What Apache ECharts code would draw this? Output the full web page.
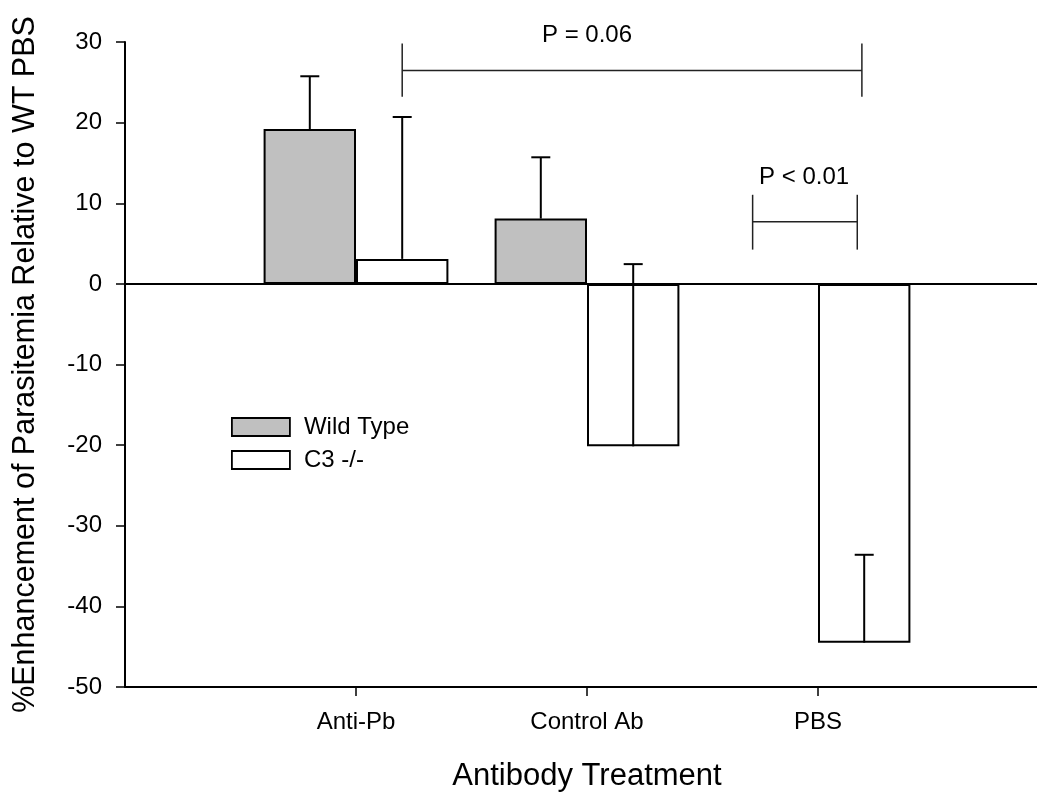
<!DOCTYPE html>
<html>
<head>
<meta charset="utf-8">
<script src="https://cdn.jsdelivr.net/npm/echarts@6/dist/echarts.min.js"></script>
<style>
  html, body { margin: 0; padding: 0; background: #fff; }
  #chart { width: 1037px; height: 797px; }
</style>
</head>
<body>
<div id="chart"></div>
<script>
// Treatment groups shown along the x axis
const categories = ['Anti-Pb', 'Control Ab', 'PBS'];

// Mean % enhancement of parasitemia relative to WT PBS
const wildTypeMeans = [19.2, 8.1, 0];
const c3Means = [3.1, -20.15, -44.5];

// Standard errors (drawn upward from each bar end)
const wildTypeErrors = [6.55, 7.6, 0];
const c3Errors = [17.6, 22.6, 10.9];

// Y axis scale
const yMin = -50;
const yMax = 30;
const yStep = 10;

// Significance brackets: [xStart, xEnd, yLine, yTickLow, yTickHigh]
const bracketSpans = [
  [1.2, 3.19, 26.45, 23.2, 29.8],
  [2.717, 3.17, 7.7, 4.25, 11.05]
];
// Bracket labels: [x, y, text]
const bracketLabels = [
  [2.0, 30.85, 'P = 0.06'],
  [2.94, 13.25, 'P < 0.01']
];

const FONT = '"Liberation Sans", Arial, Helvetica, sans-serif';

// padded category list so the groups sit at positions 1..3 on a 0..4 span
const axisCats = [''].concat(categories, ['']);
const pad = (arr) => [null].concat(arr, [null]);

const chart = echarts.init(document.getElementById('chart'), null, { renderer: 'canvas' });

function errorSeries(name, means, errs, side) {
  const data = means.map((m, i) => [i + 1, m, m + errs[i], errs[i]]);
  return {
    type: 'custom',
    name: name + ' error',
    xAxisIndex: 1,
    z: 4,
    silent: true,
    clip: false,
    data: data,
    renderItem: function (params, api) {
      if (api.value(3) <= 0) return null;
      const x = api.value(0) + side;
      const base = api.coord([x, api.value(1)]);
      const top = api.coord([x, api.value(2)]);
      const cap = 9.5;
      const style = { stroke: '#000', lineWidth: 2 };
      return {
        type: 'group',
        children: [
          { type: 'line', shape: { x1: base[0], y1: base[1], x2: top[0], y2: top[1] }, style: style },
          { type: 'line', shape: { x1: top[0] - cap, y1: top[1], x2: top[0] + cap, y2: top[1] }, style: style }
        ]
      };
    }
  };
}

const option = {
  animation: false,
  backgroundColor: '#fff',
  textStyle: { fontFamily: FONT },
  grid: {
    left: 125, top: 42, width: 924, height: 645,
    containLabel: false,
    outerBoundsMode: 'none'
  },
  legend: {
    orient: 'vertical',
    left: 231,
    top: 415,
    padding: 0,
    itemGap: 9,
    itemWidth: 58,
    itemHeight: 18,
    icon: 'rect',
    data: ['Wild Type', 'C3 -/-'],
    itemStyle: { borderColor: '#000', borderWidth: 1.8 },
    textStyle: { fontSize: 24, color: '#000', fontFamily: FONT, padding: [0, 0, 0, 9] }
  },
  xAxis: [
    {
      type: 'category',
      data: axisCats,
      boundaryGap: false,
      name: 'Antibody Treatment',
      nameLocation: 'middle',
      nameGap: 74,
      nameTextStyle: { fontSize: 31, color: '#000', fontFamily: FONT },
      axisLine: { show: true, onZero: false, lineStyle: { color: '#000', width: 2 } },
      axisTick: {
        show: true,
        length: 9,
        interval: (i) => i >= 1 && i <= categories.length,
        lineStyle: { color: '#000', width: 1.5 }
      },
      axisLabel: {
        interval: 0,
        margin: 23,
        fontSize: 24,
        color: '#000',
        fontFamily: FONT
      },
      splitLine: { show: false }
    },
    {
      type: 'value',
      min: 0,
      max: 4,
      show: false
    }
  ],
  yAxis: {
    type: 'value',
    min: yMin,
    max: yMax,
    interval: yStep,
    name: '%Enhancement of Parasitemia Relative to WT PBS',
    nameLocation: 'middle',
    nameGap: 84,
    nameTextStyle: { fontSize: 30.5, color: '#000', fontFamily: FONT },
    axisLine: { show: true, onZero: false, lineStyle: { color: '#000', width: 2 } },
    axisTick: { show: true, length: 9, lineStyle: { color: '#000', width: 1.5 } },
    axisLabel: { margin: 23, fontSize: 24, color: '#000', fontFamily: FONT },
    splitLine: { show: false }
  },
  series: [
    {
      type: 'bar',
      name: 'Wild Type',
      data: pad(wildTypeMeans),
      barWidth: 92.4,
      barGap: '0%',
      z: 2,
      itemStyle: { color: '#c0c0c0', borderColor: '#000', borderWidth: 2 },
      markLine: {
        silent: true,
        symbol: ['none', 'none'],
        label: { show: false },
        lineStyle: { color: '#000', width: 2, type: 'solid' },
        z: 5,
        data: [{ yAxis: 0 }]
      }
    },
    {
      type: 'bar',
      name: 'C3 -/-',
      data: pad(c3Means),
      barWidth: 92.4,
      barGap: '0%',
      z: 2,
      itemStyle: { color: '#ffffff', borderColor: '#000', borderWidth: 2 }
    },
    errorSeries('Wild Type', wildTypeMeans, wildTypeErrors, -0.2),
    errorSeries('C3 -/-', c3Means, c3Errors, 0.2),
    {
      type: 'custom',
      name: 'brackets',
      xAxisIndex: 1,
      silent: true,
      clip: false,
      z: 6,
      data: bracketSpans,
      renderItem: function (params, api) {
        const a = api.coord([api.value(0), api.value(2)]);
        const b = api.coord([api.value(1), api.value(2)]);
        const lo = api.coord([api.value(0), api.value(3)])[1];
        const hi = api.coord([api.value(0), api.value(4)])[1];
        const style = { stroke: '#222', lineWidth: 1.5 };
        return {
          type: 'group',
          children: [
            { type: 'line', shape: { x1: a[0], y1: a[1], x2: b[0], y2: b[1] }, style: style },
            { type: 'line', shape: { x1: a[0], y1: lo, x2: a[0], y2: hi }, style: style },
            { type: 'line', shape: { x1: b[0], y1: lo, x2: b[0], y2: hi }, style: style }
          ]
        };
      }
    },
    {
      type: 'custom',
      name: 'bracket labels',
      xAxisIndex: 1,
      silent: true,
      clip: false,
      z: 6,
      data: bracketLabels,
      renderItem: function (params, api) {
        const p = api.coord([api.value(0), api.value(1)]);
        return {
          type: 'text',
          x: p[0],
          y: p[1],
          style: {
            text: bracketLabels[params.dataIndex][2],
            fill: '#000',
            font: '24px ' + FONT,
            align: 'center',
            verticalAlign: 'middle'
          }
        };
      }
    }
  ]
};

chart.setOption(option);
</script>
</body>
</html>
